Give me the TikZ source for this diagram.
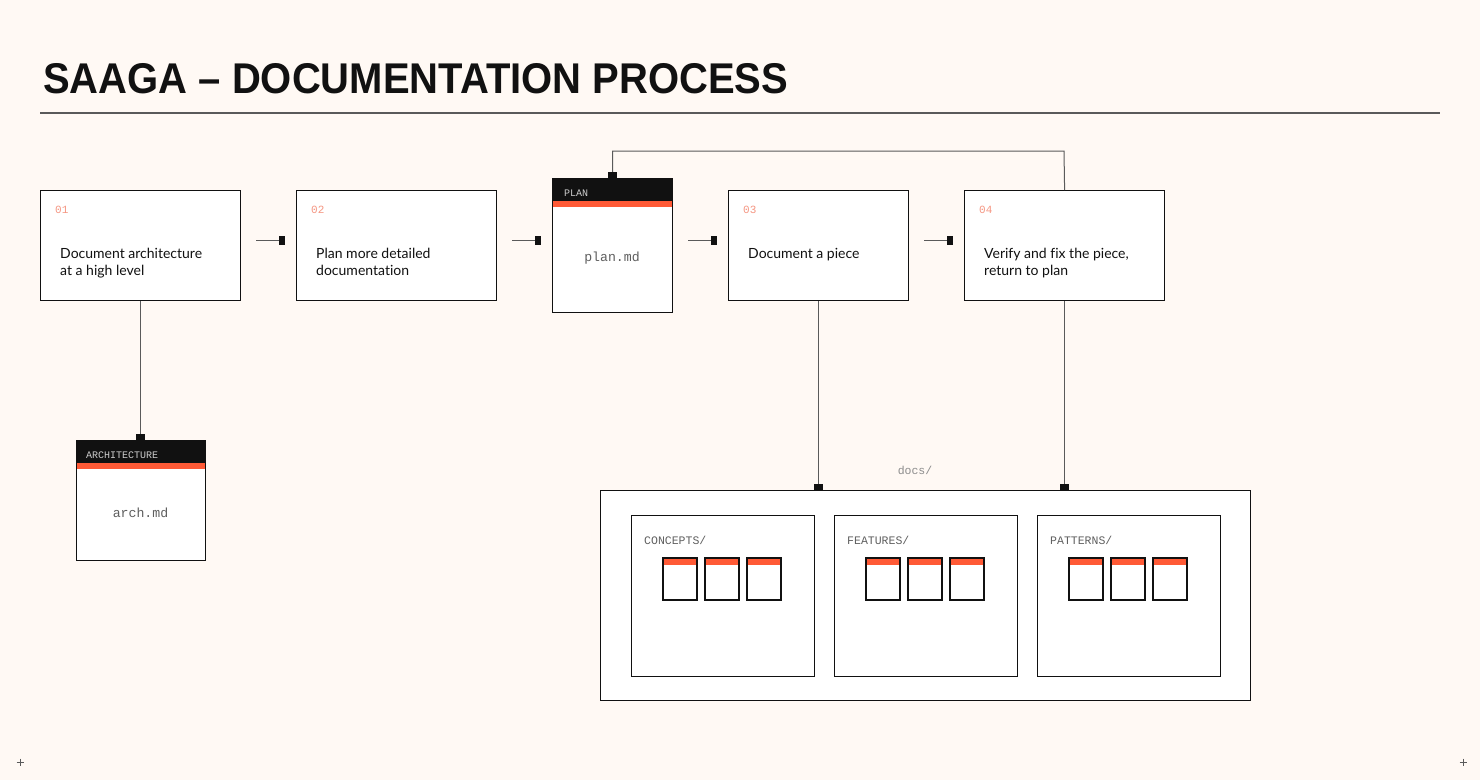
\documentclass[tikz,border=0pt]{standalone}
\usepackage{fontspec}
\setmainfont{Lato}[Ligatures={NoCommon}]
\setmonofont{Liberation Mono}
\newfontfamily\titlefont[FakeStretch=0.93, Ligatures=TeX]{Liberation Sans}
\usetikzlibrary{arrows.meta, positioning, calc}
\definecolor{paper}{RGB}{255,249,244}
\definecolor{ink}{RGB}{17,17,17}
\definecolor{accent}{RGB}{255,90,54}
\definecolor{salmon}{RGB}{245,150,130}
\definecolor{wire}{RGB}{90,90,90}
\definecolor{monogrey}{RGB}{95,95,95}
\tikzset{
  stepbox/.style={draw=ink, line width=1.2pt, fill=white, anchor=north west, minimum height=110pt, inner sep=0pt},
  filebox/.style={draw=ink, line width=1.2pt, anchor=north west, inner sep=0pt},
  stepnum/.style={anchor=west, inner sep=0pt, text=salmon, font=\ttfamily\fontsize{11}{11}\selectfont},
  steptext/.style={anchor=north west, inner sep=0pt, align=left, text=ink, font=\fontsize{14}{17}\selectfont},
  tag/.style={anchor=west, inner sep=0pt, font=\ttfamily\fontsize{10}{10}\selectfont},
  fname/.style={inner sep=0pt, text=monogrey, font=\ttfamily\fontsize{13.2}{13.2}\selectfont},
  dirname/.style={anchor=west, inner sep=0pt, text=monogrey, font=\ttfamily\fontsize{11.5}{11.5}\selectfont},
  link/.style={draw=wire, line width=1pt, -{Square[length=6pt, width=9pt, color=ink]}},
  flow/.style={link, shorten <=15pt, shorten >=11pt}
}
\begin{document}
\begin{tikzpicture}[x=1pt, y=-1pt]
\fill[paper] (0,0) rectangle (1480,780);
\useasboundingbox (0,0) rectangle (1480,780);

\node[anchor=base west, inner sep=0pt, text=ink, font=\titlefont\bfseries\fontsize{43}{43}\selectfont] (title) at (43,93) {SAAGA -- DOCUMENTATION PROCESS};
\draw[wire, line width=1.2pt] (40,113) -- (1440,113);

\node[stepbox, minimum width=200pt] (s1) at (40,190) {};
\node[stepbox, minimum width=200pt] (s2) at (296,190) {};
\node[filebox, minimum width=120pt, minimum height=134pt] (plan) at (552,178) {};
\node[stepbox, minimum width=180pt] (s3) at (728,190) {};
\node[stepbox, minimum width=200pt] (s4) at (964,190) {};

\fill[white] (552,207) rectangle (672,312);
\fill[ink] (552,178) rectangle (672,201);
\fill[accent] (552,201) rectangle (672,207);
\node[filebox, minimum width=120pt, minimum height=134pt] at (552,178) {};
\node[tag, text=white!80!black] (plantag) at (564,193) {PLAN};
\node[fname] (planfile) at (612,258) {plan.md};

\node[stepnum] (n1) at (55,210) {01};
\node[stepnum] (n2) at (311,210) {02};
\node[stepnum] (n3) at (743,210) {03};
\node[stepnum] (n4) at (979,210) {04};
\node[steptext] (t1) at (60,248) {Document architecture\\at a high level};
\node[steptext] (t2) at (316,248) {Plan more detailed\\documentation};
\node[steptext] (t3) at (748,248) {Document a piece};
\node[steptext] (t4) at (984,248) {Verify and fix the piece,\\return to plan};

\fill[white] (76,469) rectangle (205,560);
\fill[ink] (76,440) rectangle (205,463);
\fill[accent] (76,463) rectangle (205,469);
\node[filebox, minimum width=129pt, minimum height=120pt] (arch) at (76,440) {};
\node[tag, text=white!80!black] (archtag) at (86,455) {ARCHITECTURE};
\node[fname] (archfile) at (140.5,513) {arch.md};

\node[filebox, fill=white, minimum width=650pt, minimum height=210pt] (docs) at (600,490) {};
\node[inner sep=0pt, text=black!45, font=\ttfamily\fontsize{11.5}{11.5}\selectfont] (docslabel) at (915,470) {docs/};
\foreach \x/\d in {631/CONCEPTS, 834/FEATURES, 1037/PATTERNS}{
  \node[filebox, minimum width=183pt, minimum height=161pt] (\d) at (\x,515) {};
  \node[dirname] at (\x+13,540) {\d/};
  \foreach \i in {0,1,2}{
    \fill[accent] (\x+32+42*\i,559) rectangle (\x+66+42*\i,565);
    \draw[ink, line width=1.2pt] (\x+32+42*\i,558) rectangle (\x+66+42*\i,600);
  }
}

\draw[flow] ([yshift=5pt]s1.east) -- ([yshift=5pt]s2.west);
\draw[flow] ([yshift=5pt]s2.east) -- ([yshift=5pt]plan.west);
\draw[flow] ([yshift=5pt]plan.east) -- ([yshift=5pt]s3.west);
\draw[flow] ([yshift=5pt]s3.east) -- ([yshift=5pt]s4.west);
\draw[link] (s4.north) -- (1064,151) -| (plan.north);
\draw[link] (s1.south) -- (s1.south |- arch.north);
\draw[link] (s3.south) -- (s3.south |- docs.north);
\draw[link] (s4.south) -- (s4.south |- docs.north);

\draw[wire, line width=0.8pt] (16.5,762) -- (23.5,762) (20,758.5) -- (20,765.5);
\draw[wire, line width=0.8pt] (1459.5,762) -- (1466.5,762) (1463,758.5) -- (1463,765.5);
\end{tikzpicture}
\end{document}
